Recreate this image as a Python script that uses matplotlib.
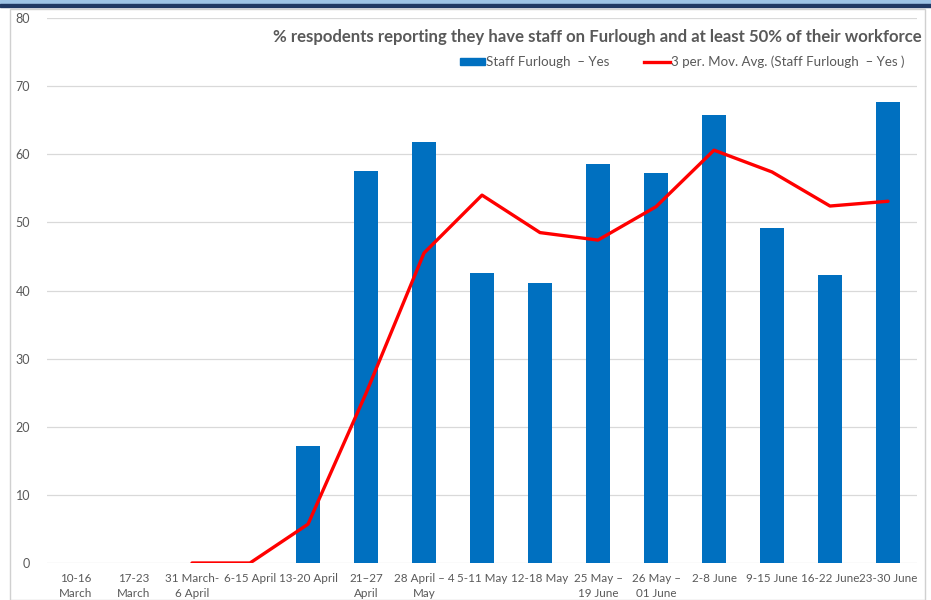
import matplotlib.pyplot as plt
from matplotlib.patches import Rectangle
from matplotlib.lines import Line2D

weeks = ["10-16\nMarch", "17-23\nMarch", "31 March-\n6 April", "6-15 April",
         "13-20 April", "21\u201327\nApril", "28 April \u2013 4\nMay", "5-11 May",
         "12-18 May", "25 May \u2013\n19 June", "26 May \u2013\n01 June", "2-8 June",
         "9-15 June", "16-22 June", "23-30 June"]
furlough_yes = [0, 0, 0, 0, 17.2, 57.6, 61.8, 42.6, 41.1, 58.6, 57.3, 65.8, 49.2, 42.3, 67.7]
mov_avg = [None, None, 0, 0, 5.7, 24.9, 45.5, 54.0, 48.5, 47.4, 52.3, 60.6, 57.4, 52.4, 53.1]

plt.rcParams['font.family'] = ['Lato', 'DejaVu Sans']
grey = '#595959'

fig = plt.figure(figsize=(9.31, 6), dpi=100)
ax = fig.add_axes([47/931, 37/600, 870/931, 545/600])

x = list(range(len(weeks)))
ax.bar(x, furlough_yes, width=0.41, color='#0070C0', zorder=2)
xs = [i for i, v in zip(x, mov_avg) if v is not None]
ys = [v for v in mov_avg if v is not None]
ax.plot(xs, ys, color='#FF0000', lw=2.4, zorder=3, solid_capstyle='round')

ax.set_xlim(-0.5, len(weeks) - 0.5)
ax.set_ylim(0, 80)
ax.set_yticks(range(0, 81, 10))
ax.set_xticks(x)
ax.set_xticklabels(weeks, fontsize=8.4, color=grey, linespacing=1.45)
ax.tick_params(axis='y', labelsize=9, labelcolor=grey, length=0, pad=12)
ax.tick_params(axis='x', length=0, pad=7)
ax.grid(axis='y', color='#D9D9D9', lw=0.9, zorder=0)
for s in ax.spines.values():
    s.set_visible(False)

fig.text(922/931, 1 - 37/600, "% respodents reporting they have staff on Furlough and at least 50% of their workforce",
         ha='right', va='center', fontsize=12.05, fontweight='bold', color=grey)

handles = [Rectangle((0, 0), 1, 1, color='#0070C0'),
           Line2D([], [], color='#FF0000', lw=2.4)]
fig.legend(handles, ["Staff Furlough  \u2013 Yes", "3 per. Mov. Avg. (Staff Furlough  \u2013 Yes )"],
           loc='center', bbox_to_anchor=(682/931, 1 - 62/600), ncol=2, frameon=False,
           fontsize=9.6, labelcolor=grey, handlelength=1.9, handleheight=0.45,
           handletextpad=0.1, columnspacing=2.6)

# window frame around the chart
fig.patches.append(Rectangle((10/931, 0), 915/931, 1 - 9/600, transform=fig.transFigure,
                             fill=False, edgecolor='#D0D0D0', lw=1))
fig.patches.append(Rectangle((0, 1 - 4/600), 1, 4/600, transform=fig.transFigure,
                             color='#9DC3E6'))
fig.patches.append(Rectangle((0, 1 - 7/600), 1, 3/600, transform=fig.transFigure,
                             color='#1F3864'))

fig.savefig("out.png", dpi=100)
